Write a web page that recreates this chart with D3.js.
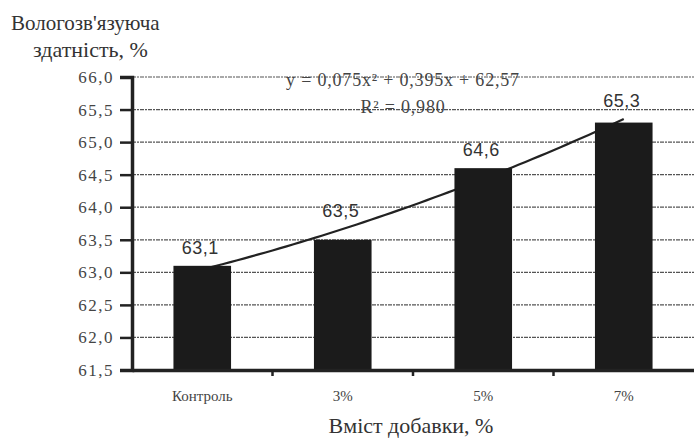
<!DOCTYPE html>
<html>
<head>
<meta charset="utf-8">
<script src="https://cdn.jsdelivr.net/npm/d3@7"></script>
<style>
  body { margin: 0; background: #fff; }
  svg { display: block; }
  svg text { font-family: "Liberation Serif", "Times New Roman", serif; }
  svg text.value { font-family: "Liberation Sans", Arial, sans-serif; }
</style>
</head>
<body>
<svg id="chart" width="694" height="442"></svg>
<script>
// Дані
const categories = ["Контроль", "3%", "5%", "7%"];
const values = [63.1, 63.5, 64.6, 65.3];
const yTicks = [61.5, 62.0, 62.5, 63.0, 63.5, 64.0, 64.5, 65.0, 65.5, 66.0];
const trendCoef = [0.075, 0.395, 62.575]; // a, b, c
const trendText = ["y = 0,075x² + 0,395x + 62,57", "R² = 0,980"];

const fmt = d => d3.format(".1f")(d).replace(".", ",");

const svg = d3.select("#chart");
const margin = {top: 77, right: 0, bottom: 72, left: 132};
const width = 694 - margin.left - margin.right;
const height = 442 - margin.top - margin.bottom;

const g = svg.append("g").attr("transform", `translate(${margin.left},${margin.top})`);

// Шкали
const x = d3.scaleBand().domain(categories).range([0, width]).padding(0);
const y = d3.scaleLinear().domain([61.5, 66.0]).range([height, 0]);
const barW = x.bandwidth() * 0.41;

// Сітка
g.append("g")
  .selectAll("line")
  .data(yTicks.slice(1))
  .enter().append("line")
    .attr("x1", 0).attr("x2", width)
    .attr("y1", d => y(d)).attr("y2", d => y(d))
    .attr("stroke", "#555")
    .attr("stroke-width", 1.2)
    .attr("stroke-dasharray", "4,1,2,1");

// Лінія тренду (поліноміальна)
const trend = t => trendCoef[0] * t * t + trendCoef[1] * t + trendCoef[2];
const cx = i => x(categories[i]) + x.bandwidth() / 2;
const pts = d3.range(0, 3.001, 0.05).map(t => [
  cx(0) + t * x.step(),
  y(trend(t + 1))
]);
g.append("path")
  .attr("d", d3.line()(pts))
  .attr("fill", "none")
  .attr("stroke", "#222")
  .attr("stroke-width", 2.2);

// Стовпці
g.selectAll("rect.bar")
  .data(values)
  .enter().append("rect")
    .attr("class", "bar")
    .attr("x", (d, i) => cx(i) - barW / 2)
    .attr("y", d => y(d))
    .attr("width", barW)
    .attr("height", d => height - y(d))
    .attr("fill", "#1b1b1b");

// Підписи значень
g.selectAll("text.value")
  .data(values)
  .enter().append("text")
    .attr("class", "value")
    .attr("x", (d, i) => cx(i) - 2)
    .attr("y", (d, i) => Math.min(y(d), y(trend(i + 1))) - 12)
    .attr("text-anchor", "middle")
    .style("font-size", "18px")
    .style("letter-spacing", "0.5px")
    .attr("fill", "#333")
    .text(d => fmt(d));

// Вісь Y
const yAxis = g.append("g")
  .call(d3.axisLeft(y).tickValues(yTicks).tickFormat(fmt).tickSize(12).tickPadding(6))
  .attr("font-family", null).attr("font-size", null);
yAxis.select(".domain").attr("stroke", "#222").attr("stroke-width", 3.5);
yAxis.selectAll(".tick line").attr("stroke", "#222").attr("stroke-width", 2.5);
yAxis.selectAll("text")
  .style("font-size", "17px")
  .style("letter-spacing", "1.5px")
  .attr("fill", "#444");

// Вісь X
const xAxis = g.append("g")
  .attr("transform", `translate(0,${height})`)
  .call(d3.axisBottom(x).tickSize(0).tickPadding(20))
  .attr("font-family", null).attr("font-size", null);
xAxis.select(".domain").attr("stroke", "#222").attr("stroke-width", 3.5);
xAxis.selectAll("text")
  .style("font-size", "15px")
  .attr("fill", "#444");
// Поділки між категоріями
xAxis.selectAll("line.sep")
  .data(categories.slice(1))
  .enter().append("line")
    .attr("class", "sep")
    .attr("x1", d => x(d)).attr("x2", d => x(d))
    .attr("y1", 0).attr("y2", 6)
    .attr("stroke", "#222")
    .attr("stroke-width", 2.5);

// Рівняння тренду
g.selectAll("text.eq")
  .data(trendText)
  .enter().append("text")
    .attr("class", "eq")
    .attr("x", 403 - margin.left)
    .attr("y", (d, i) => 9 + i * 27)
    .attr("text-anchor", "middle")
    .style("font-size", "18px")
    .style("letter-spacing", "0.8px")
    .attr("fill", "#444")
    .text(d => d);

// Назви осей
svg.append("text")
  .attr("class", "title")
  .attr("x", 11).attr("y", 30)
  .style("font-size", "21px")
  .attr("fill", "#333")
  .text("Вологозв'язуюча");
svg.append("text")
  .attr("class", "title")
  .attr("x", 33).attr("y", 57)
  .style("font-size", "22px")
  .attr("fill", "#333")
  .text("здатність, %");
svg.append("text")
  .attr("class", "title")
  .attr("x", 411).attr("y", 433)
  .attr("text-anchor", "middle")
  .style("font-size", "22px")
  .attr("fill", "#333")
  .text("Вміст добавки, %");
</script>
</body>
</html>
